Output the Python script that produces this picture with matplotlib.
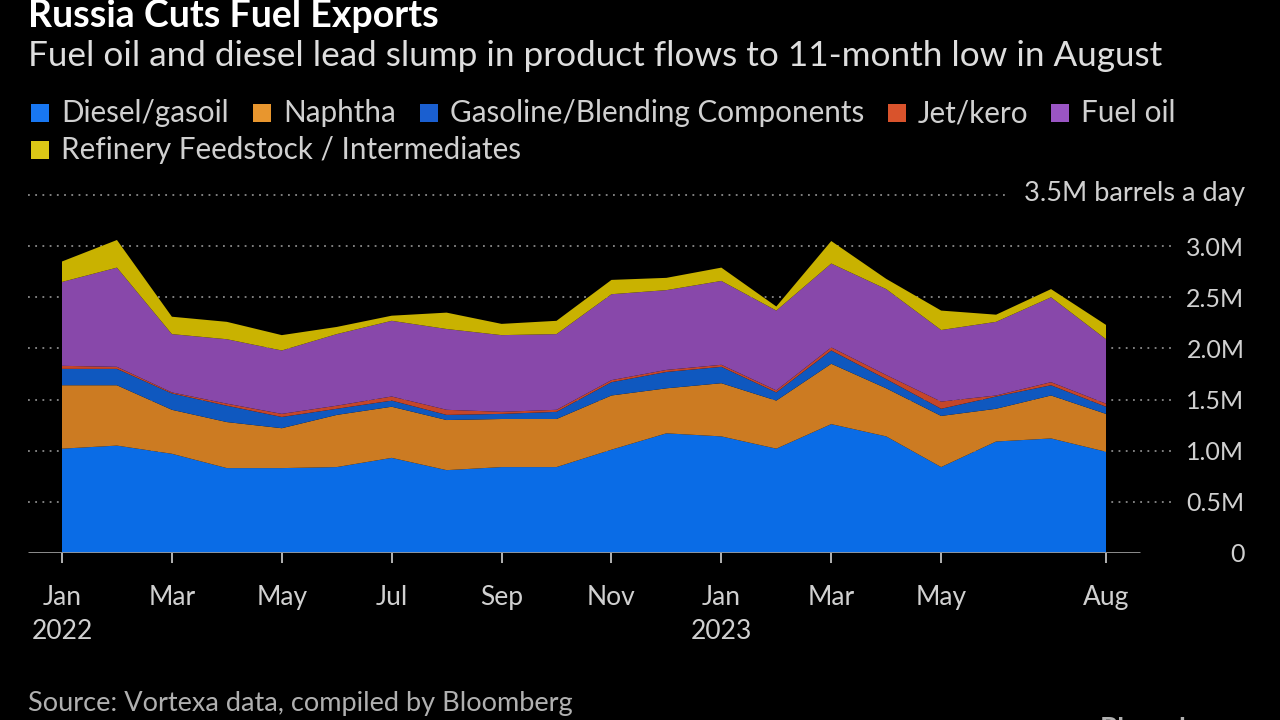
import matplotlib.pyplot as plt
from matplotlib.patches import Rectangle

# Monthly Russian product exports, million barrels a day (Jan 2022 - Aug 2023)
months = ['Jan 2022', 'Feb 2022', 'Mar 2022', 'Apr 2022', 'May 2022', 'Jun 2022',
          'Jul 2022', 'Aug 2022', 'Sep 2022', 'Oct 2022', 'Nov 2022', 'Dec 2022',
          'Jan 2023', 'Feb 2023', 'Mar 2023', 'Apr 2023', 'May 2023', 'Jun 2023',
          'Jul 2023', 'Aug 2023']
diesel = [1.02, 1.05, 0.97, 0.83, 0.83, 0.84, 0.93, 0.81, 0.84, 0.84,
          1.01, 1.17, 1.14, 1.02, 1.26, 1.14, 0.84, 1.09, 1.12, 0.99]
naphtha = [0.62, 0.59, 0.43, 0.45, 0.39, 0.51, 0.50, 0.49, 0.47, 0.47,
           0.53, 0.44, 0.52, 0.47, 0.59, 0.47, 0.50, 0.32, 0.42, 0.37]
gasoline = [0.16, 0.16, 0.16, 0.16, 0.11, 0.06, 0.06, 0.05, 0.05, 0.07,
            0.13, 0.16, 0.16, 0.08, 0.13, 0.09, 0.07, 0.12, 0.10, 0.07]
jet = [0.03, 0.02, 0.01, 0.02, 0.03, 0.03, 0.04, 0.05, 0.02, 0.02,
       0.02, 0.02, 0.02, 0.02, 0.03, 0.04, 0.07, 0.01, 0.03, 0.03]
fuel_oil = [0.82, 0.97, 0.57, 0.63, 0.62, 0.70, 0.74, 0.79, 0.75, 0.74,
            0.84, 0.78, 0.82, 0.78, 0.82, 0.84, 0.70, 0.72, 0.83, 0.63]
feedstock = [0.20, 0.27, 0.17, 0.17, 0.15, 0.07, 0.05, 0.16, 0.11, 0.13,
             0.14, 0.12, 0.13, 0.04, 0.22, 0.10, 0.19, 0.07, 0.08, 0.14]

series_names = ['Diesel/gasoil', 'Naphtha', 'Gasoline/Blending Components',
                'Jet/kero', 'Fuel oil', 'Refinery Feedstock / Intermediates']
colores = ['#0a6ce6', '#cc7b22', '#0f58bf', '#c4462a', '#8848aa', '#c9b200']
legend_colores = ['#1877f2', '#e8962e', '#1a5fd0', '#d9532c', '#9a55c4', '#dcc816']

tick_pos = [0, 2, 4, 6, 8, 10, 12, 14, 16, 19]
tick_labels = ['Jan\n2022', 'Mar', 'May', 'Jul', 'Sep', 'Nov', 'Jan\n2023', 'Mar', 'May', 'Aug']
y_ticks = [0, 0.5, 1.0, 1.5, 2.0, 2.5, 3.0]
y_labels = ['0', '0.5M', '1.0M', '1.5M', '2.0M', '2.5M', '3.0M']

plt.rcParams['font.family'] = ['Lato', 'DejaVu Sans']
W, H = 1280, 720
fig = plt.figure(figsize=(12.8, 7.2), dpi=100, facecolor='black')

# axes placed in pixel coordinates
px_left, px_right, px_base, px_top = 28, 1175, 553, 195
ax = fig.add_axes([px_left / W, (H - px_base) / H, (px_right - px_left) / W, (px_base - px_top) / H])
ax.set_facecolor('black')
x = list(range(len(months)))
ppm = (1106 - 62) / 19
ax.set_xlim(-(62 - px_left) / ppm, 19 + (px_right - 1106) / ppm)
ax.set_ylim(0, 3.5)

ax.stackplot(x, diesel, naphtha, gasoline, jet, fuel_oil, feedstock,
             colors=colores, linewidth=0, zorder=3)

# dotted gridlines
for v in y_ticks[1:]:
    ax.hlines(v, ax.get_xlim()[0], ax.get_xlim()[1], colors='#8a8a8a',
              linestyles=(0, (1, 3)), linewidth=1.3, zorder=1)
ax.hlines(3.5, ax.get_xlim()[0], 17.2, colors='#8a8a8a',
          linestyles=(0, (1, 3)), linewidth=1.3, zorder=1, clip_on=False)
ax.hlines(0, ax.get_xlim()[0], 19 + (1140 - 1106) / ppm, colors='#9a9a9a', linewidth=2, zorder=4)

for s in ax.spines.values():
    s.set_visible(False)
ax.set_xticks(tick_pos)
ax.set_xticklabels(tick_labels, color='#d0d0d0', fontsize=19, linespacing=1.45)
ax.tick_params(axis='x', colors='#d0d0d0', length=7, width=1.2, pad=16, labelcolor='#d0d0d0')
ax.yaxis.tick_right()
ax.set_yticks(y_ticks)
ax.set_yticklabels(y_labels, color='#d0d0d0', fontsize=18, ha='right')
ax.tick_params(axis='y', length=0, pad=50)

ax.text(1245 / W, (H - 193) / H, '3.5M barrels a day', transform=fig.transFigure,
        color='#d0d0d0', fontsize=19.5, ha='right', va='center')

# titles
fig.text(28 / W, 1 - 16 / H, 'Russia Cuts Fuel Exports', color='white',
         fontsize=27, fontweight='bold', va='center')
fig.text(28 / W, 1 - 56 / H, 'Fuel oil and diesel lead slump in product flows to 11-month low in August',
         color='#dedede', fontsize=25.3, va='center')

# legend built by hand
legend_items = [(31, 113, 0), (253, 113, 1), (420, 113, 2), (888, 113, 3), (1051, 113, 4), (31, 150, 5)]
for lx, ly, i in legend_items:
    fig.patches.append(Rectangle((lx / W, 1 - (ly + 9) / H), 18 / W, 18 / H,
                                 transform=fig.transFigure, facecolor=legend_colores[i],
                                 edgecolor='none'))
    fig.text((lx + 30) / W, 1 - ly / H, series_names[i], color='#d0d0d0',
             fontsize=21.3, va='center')

fig.text(28 / W, 1 - 703 / H, 'Source: Vortexa data, compiled by Bloomberg',
         color='#b0b0b0', fontsize=19.5, va='center')
fig.text(1100 / W, 1 - 730 / H, 'Bloomberg', color='#b0b0b0', fontsize=20,
         fontweight='bold', va='center')

fig.savefig('out.png', dpi=100, facecolor='black')
